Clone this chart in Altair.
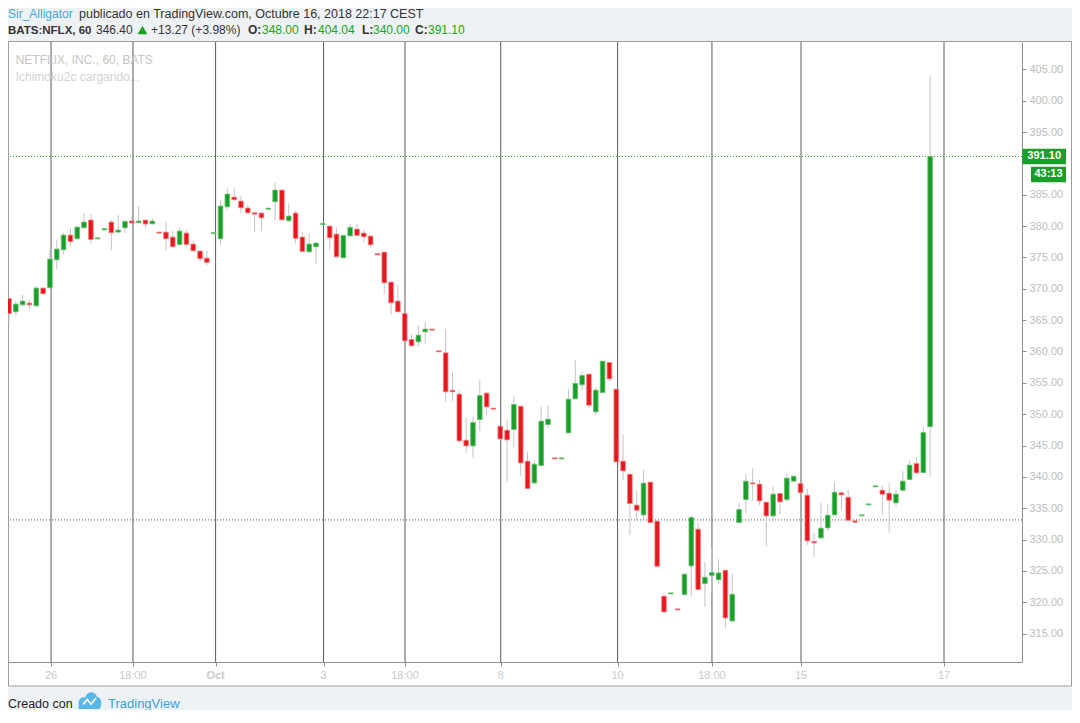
import altair as alt
import pandas as pd
import numpy as np

# ---------------- data ----------------
opens = [368.45, 366.33, 367.45, 367.71, 367.29, 370.11, 370.16, 374.63, 376.22, 378.56,
         377.98, 379.73, 380.96, 378.00, 379.40, 380.64, 379.04, 379.73, 380.80, 380.53,
         380.96, 380.37, 379.04, 379.04, 378.24, 377.07, 378.88, 377.13, 376.01, 374.89,
         378.80, 377.98, 383.08, 384.62, 383.98, 382.87, 382.12, 382.07, 382.70, 383.88,
         385.74, 380.85, 382.07, 378.24, 375.90, 376.70, 380.25, 379.99, 378.72, 374.94,
         378.45, 379.52, 378.88, 378.40, 375.60, 375.84, 371.06, 368.03, 366.06, 361.91,
         361.54, 363.13, 363.56, 360.10, 359.78, 353.82, 353.19, 345.84, 344.94, 349.14,
         353.35, 350.95, 348.08, 347.44, 347.55, 351.27, 342.50, 339.04, 341.80, 348.34,
         343.03, 342.87, 347.01, 352.44, 354.68, 356.38, 350.37, 353.45, 358.24, 353.98,
         342.50, 340.42, 335.48, 333.93, 339.15, 332.92, 320.96, 321.33, 318.93, 321.22,
         325.80, 331.65, 322.98, 324.30, 323.60, 325.10, 317.02, 332.71, 336.38, 339.04,
         338.83, 335.96, 333.78, 337.34, 336.38, 339.31, 338.94, 337.07, 329.68, 330.27,
         331.86, 333.94, 337.45, 336.75, 332.98, 333.78, 335.53, 338.41, 337.87, 337.39,
         335.85, 337.87, 339.58, 342.13, 340.68, 348.00]
highs = [368.99, 368.08, 368.99, 368.19, 370.43, 370.21, 376.17, 377.76, 378.94, 379.73,
         379.84, 382.13, 381.81, 378.10, 379.60, 380.96, 381.81, 381.06, 381.49, 383.19,
         380.96, 381.28, 379.04, 380.64, 379.20, 379.79, 379.36, 377.60, 376.01, 376.06,
         378.95, 384.15, 386.00, 386.00, 384.78, 383.35, 382.12, 382.07, 382.90, 386.91,
         385.84, 383.61, 382.44, 378.93, 378.82, 377.49, 380.50, 380.15, 379.78, 378.50,
         380.30, 380.30, 379.36, 378.50, 375.60, 375.84, 371.06, 370.58, 366.06, 362.76,
         364.19, 364.62, 363.56, 360.10, 363.56, 356.75, 353.82, 349.41, 349.57, 355.42,
         353.56, 350.95, 348.08, 349.04, 352.87, 351.27, 344.00, 342.66, 351.16, 351.43,
         343.03, 343.03, 353.99, 358.61, 356.75, 356.38, 354.25, 358.45, 358.24, 353.98,
         346.80, 340.42, 337.71, 341.06, 339.15, 333.19, 321.49, 321.49, 318.93, 324.57,
         333.88, 332.66, 326.43, 328.83, 326.86, 325.10, 324.57, 335.85, 340.53, 341.38,
         339.47, 335.96, 338.41, 337.45, 340.53, 340.10, 338.94, 338.14, 331.06, 335.85,
         335.64, 339.20, 337.77, 337.98, 332.98, 333.94, 335.69, 338.57, 338.62, 339.04,
         337.98, 340.90, 342.66, 343.18, 347.97, 404.04]
lows = [364.57, 365.69, 367.13, 366.81, 367.02, 369.20, 370.16, 373.14, 375.43, 376.70,
        377.98, 379.73, 377.13, 377.90, 379.40, 376.17, 379.04, 378.94, 380.48, 380.53,
        379.73, 380.21, 378.88, 376.17, 376.54, 376.81, 376.70, 375.90, 374.31, 373.78,
        378.80, 376.97, 382.60, 384.04, 382.12, 382.02, 379.09, 379.20, 382.70, 380.85,
        381.00, 380.69, 377.23, 375.95, 375.74, 373.93, 380.20, 376.16, 375.10, 374.94,
        378.29, 378.50, 377.49, 376.54, 375.40, 369.14, 365.84, 366.32, 361.69, 360.90,
        360.74, 361.27, 363.40, 359.94, 351.96, 352.12, 345.42, 343.82, 343.03, 347.33,
        349.89, 350.80, 346.06, 339.20, 344.78, 340.15, 338.13, 338.77, 341.80, 347.81,
        342.87, 342.87, 347.01, 352.44, 353.82, 351.00, 349.84, 353.45, 355.15, 342.39,
        339.47, 330.69, 333.08, 333.24, 332.71, 325.48, 318.46, 321.33, 318.78, 321.22,
        321.01, 322.02, 319.25, 321.65, 322.98, 315.96, 316.80, 332.71, 334.26, 336.17,
        335.48, 328.94, 333.08, 334.04, 336.01, 339.31, 337.50, 329.10, 327.23, 330.11,
        331.38, 333.94, 334.68, 333.08, 332.77, 333.78, 335.53, 338.41, 334.04, 331.06,
        335.21, 337.60, 339.47, 340.52, 340.68, 340.00]
closes = [366.06, 367.55, 368.03, 367.45, 370.11, 369.20, 374.73, 376.33, 378.56, 377.50,
          379.84, 380.64, 377.87, 378.10, 379.60, 378.94, 379.36, 380.74, 380.48, 380.80,
          380.32, 380.80, 378.88, 377.98, 376.70, 379.20, 377.07, 376.06, 374.79, 374.20,
          378.95, 383.19, 385.10, 384.20, 382.92, 382.12, 381.90, 381.32, 382.85, 385.74,
          381.00, 381.59, 378.03, 375.95, 377.12, 377.28, 380.40, 378.13, 375.10, 378.50,
          379.78, 378.50, 378.29, 377.02, 375.40, 370.95, 367.76, 366.32, 361.69, 360.90,
          362.60, 363.56, 363.40, 359.94, 353.56, 353.56, 345.74, 344.94, 348.66, 352.97,
          351.16, 350.80, 346.06, 345.90, 351.54, 342.23, 338.13, 342.02, 348.88, 349.20,
          342.87, 343.03, 352.39, 354.89, 356.16, 351.43, 353.82, 358.45, 355.63, 342.39,
          340.95, 335.74, 334.68, 338.99, 332.71, 325.74, 318.46, 321.49, 318.78, 324.47,
          333.51, 322.02, 323.98, 324.73, 324.68, 317.50, 321.27, 334.79, 339.31, 338.88,
          336.17, 333.78, 337.23, 336.01, 339.79, 340.10, 337.50, 329.79, 329.47, 331.81,
          333.88, 337.55, 337.13, 333.08, 332.77, 333.94, 335.69, 338.57, 337.23, 336.28,
          337.23, 339.31, 341.86, 340.64, 347.07, 391.10]

tick_pos = [6.16, 18.17, 30.28, 46.1, 58.04, 72.07, 89.2, 103.03, 116.08, 137.04]
tick_labels = ["26", "18:00", "Oct", "3", "18:00", "8", "10", "18:00", "15", "17"]
y_ticks = [v for v in range(315, 406, 5) if v != 390]
prev_close = 333.13
last_close = closes[-1]
countdown = "43:13"
symbol = "BATS:NFLX, 60"
change_text = ["346.40", "+13.27 (+3.98%)"]
watermark = ["NETFLIX, INC., 60, BATS", "Ichimoku2c cargando..."]
author = "Sir_Alligator"
published = " publicado en TradingView.com, Octubre 16, 2018 22:17 CEST"

# ---------------- styling ----------------
FONT = "Liberation Sans"
GREEN = "#1a9e2a"
RED = "#e8171d"
TXT_GREEN = "#22a322"
AX = "#8e8e8e"
YLBL = "#bdbdbd"
XLBL = "#cacaca"
BG = "#eff2f5"
W, H = 1014, 620

df = pd.DataFrame({"i": np.arange(len(opens)), "open": opens, "high": highs,
                   "low": lows, "close": closes})
df["dir"] = np.where(df["close"] >= df["open"], "up", "down")
mid = (df["open"] + df["close"]) / 2
half = np.maximum((df["close"] - df["open"]).abs() / 2, 0.08)
df["btop"] = mid + half
df["bbot"] = mid - half

xs = alt.Scale(domain=[-0.147, 148.47], nice=False, zero=False, padding=0)
ys = alt.Scale(domain=[310.47, 409.36], nice=False, zero=False, padding=0)
x_axis = alt.Axis(values=tick_pos, labels=False, ticks=True, tickSize=4,
                  tickColor=AX, domainColor=AX, grid=False, title=None)
y_axis = alt.Axis(orient="right", values=y_ticks, format=".2f", labelColor=YLBL,
                  labelFont=FONT, labelFontSize=11, tickSize=4, tickColor=AX,
                  domainColor=AX, grid=False, title=None, labelPadding=3)


def X(f):
    return alt.X(f"{f}:Q", scale=xs, axis=x_axis)


def Y(f):
    return alt.Y(f"{f}:Q", scale=ys, axis=y_axis)


one = pd.DataFrame({"k": [0]})


def txt(s, x, y, color="#333333", weight="normal", size=12, align="left",
        baseline="alphabetic"):
    return alt.Chart(one).mark_text(text=s, align=align, baseline=baseline, font=FONT,
                                    fontSize=size, fontWeight=weight, color=color).encode(
        x=alt.value(x), y=alt.value(y))


# background bands (header / footer) and frame
header_bg = alt.Chart(one).mark_rect(fill=BG).encode(
    x=alt.value(0), x2=alt.value(1064), y=alt.value(-34), y2=alt.value(-0.5))
footer_bg = alt.Chart(one).mark_rect(fill=BG).encode(
    x=alt.value(0), x2=alt.value(1064), y=alt.value(644.5), y2=alt.value(668))
frame = alt.Chart(one).mark_rect(fill="transparent", stroke="#9c9c9c", strokeWidth=1).encode(
    x=alt.value(0.5), x2=alt.value(1063.5), y=alt.value(-0.5), y2=alt.value(644))

ticks_df = pd.DataFrame({"i": tick_pos, "label": tick_labels})
vlines = alt.Chart(ticks_df).mark_rule(color="#5a5a5a", strokeWidth=1).encode(x=X("i"))
xlab = alt.Chart(ticks_df).transform_filter(alt.datum.label != "Oct").mark_text(
    font=FONT, fontSize=11, color=XLBL, baseline="middle").encode(
    x=X("i"), y=alt.value(634), text="label:N")
xlab_b = alt.Chart(ticks_df).transform_filter(alt.datum.label == "Oct").mark_text(
    font=FONT, fontSize=11, color=XLBL, fontWeight="bold", baseline="middle").encode(
    x=X("i"), y=alt.value(634), text="label:N")

lines_df = pd.DataFrame({"price": [prev_close, last_close], "kind": ["prev", "last"]})
hlines = alt.Chart(lines_df).mark_rule(strokeDash=[1, 2], strokeWidth=1).encode(
    y=Y("price"),
    color=alt.Color("kind:N", scale=alt.Scale(domain=["prev", "last"],
                                              range=["#555555", GREEN]), legend=None))

wicks = alt.Chart(df).mark_rule(color="#c4c4c4", strokeWidth=1).encode(
    x=X("i"), y=Y("low"), y2="high:Q")
bodies = alt.Chart(df).mark_bar(size=4.6, strokeWidth=0.8).encode(
    x=X("i"), y=Y("btop"), y2="bbot:Q",
    fill=alt.Fill("dir:N", scale=alt.Scale(domain=["up", "down"], range=[GREEN, RED]),
                  legend=None),
    stroke=alt.Stroke("dir:N", scale=alt.Scale(domain=["up", "down"],
                                               range=["#62c06a", "#f57b7e"]), legend=None))

last_df = pd.DataFrame({"price": [last_close], "label": [f"{last_close:.2f}"],
                        "cd": [countdown]})
box_base = alt.Chart(last_df).transform_calculate(
    top="datum.price + 1.245", bot="datum.price - 1.245")
box1 = box_base.mark_rect(color=GREEN).encode(
    x=alt.value(1014.3), x2=alt.value(1058), y=Y("top"), y2="bot:Q")
box2 = box_base.mark_rect(color=GREEN, yOffset=18, y2Offset=18).encode(
    x=alt.value(1023), x2=alt.value(1058), y=Y("top"), y2="bot:Q")
box1_t = alt.Chart(last_df).mark_text(color="white", fontWeight="bold", fontSize=11,
                                      font=FONT, baseline="middle").encode(
    x=alt.value(1036.2), y=Y("price"), text="label:N")
box2_t = alt.Chart(last_df).mark_text(color="white", fontWeight="bold", fontSize=11,
                                      font=FONT, baseline="middle", dy=18).encode(
    x=alt.value(1040.5), y=Y("price"), text="cd:N")

# header
hdr = [
    txt(author, 0, -24.5, color="#3ea8de", size=12),
    txt(published, 71, -24.5, color="#333333", size=12.5),
    txt(symbol, 0, -8, weight="bold", size=11.5),
    txt(change_text[0], 88, -8),
    txt(change_text[1], 143, -8),
    txt("O:", 240, -8, weight="bold"), txt(f"{opens[-1]:.2f}", 254, -8, color=TXT_GREEN),
    txt("H:", 296, -8, weight="bold"), txt(f"{highs[-1]:.2f}", 310, -8, color=TXT_GREEN),
    txt("L:", 354, -8, weight="bold"), txt(f"{lows[-1]:.2f}", 365, -8, color=TXT_GREEN),
    txt("C:", 407, -8, weight="bold"), txt(f"{closes[-1]:.2f}", 420, -8, color=TXT_GREEN),
]
tri = alt.Chart(one).mark_point(shape="triangle-up", filled=True, color="#17a317",
                                size=95, opacity=1).encode(x=alt.value(134.5), y=alt.value(-12))

wm = [
    txt(watermark[0], 7.7, 18, color="#c6c6c6", size=12, baseline="middle"),
    txt(watermark[1], 7.7, 35, color="#d2d2d2", size=12, baseline="middle"),
]

# footer
cloud = ("M-1,0.7 L-1,0.2 C-1,-0.2 -0.7,-0.4 -0.4,-0.3 C-0.3,-0.85 0.45,-0.95 0.62,-0.35 "
         "C1,-0.35 1.1,0.3 0.85,0.7 Z")
logo = alt.Chart(one).mark_point(shape=cloud, filled=True, color="#58b7e6", size=520,
                                 opacity=1).encode(x=alt.value(82), y=alt.value(659))
zig = alt.Chart(one).mark_point(shape="M-0.8,0.3 L-0.3,-0.3 L0.1,0.25 L0.7,-0.45",
                                filled=False, stroke="white", strokeWidth=1.6, size=300,
                                opacity=1).encode(x=alt.value(82), y=alt.value(660))
ftr = [
    txt("Creado con", 0, 666, color="#222222", size=12.5),
    txt("TradingView", 100, 666, color="#3a9fde", size=13),
]

chart = alt.layer(
    header_bg, footer_bg, frame, vlines, hlines, wicks, bodies, xlab, xlab_b,
    box1, box2, box1_t, box2_t, tri, logo, zig, *hdr, *wm, *ftr
).properties(
    width=W, height=H,
    padding={"left": 0, "top": 34, "right": 50, "bottom": 48},
    autosize=alt.AutoSizeParams(type="none"),
    background="white",
).configure_view(stroke="transparent")

chart.save("out.html", embed_options={"renderer": "svg", "actions": False})
